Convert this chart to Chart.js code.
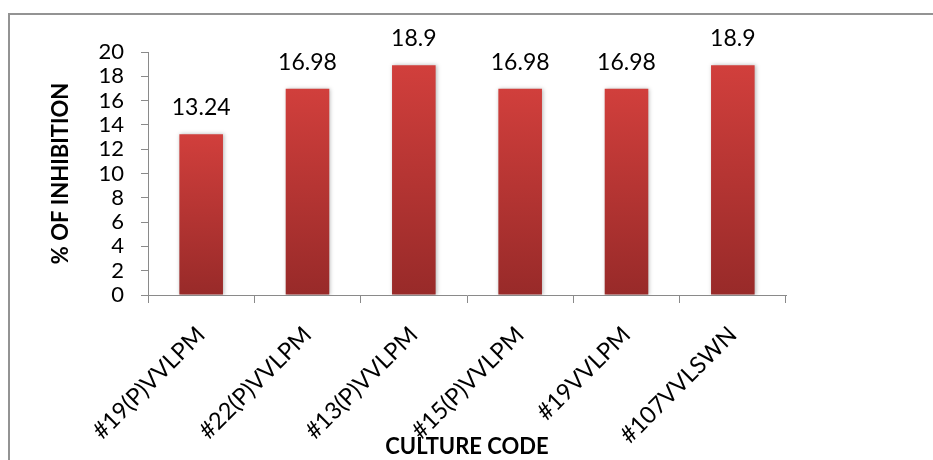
<!DOCTYPE html>
<html>
<head>
<meta charset="utf-8">
<script src="https://cdn.jsdelivr.net/npm/chart.js@4/dist/chart.umd.min.js"></script>
<style>
  html, body { margin: 0; padding: 0; background: #ffffff; }
  #wrap { width: 933px; height: 460px; position: relative; }
</style>
</head>
<body>
<div id="wrap"><canvas id="c" width="933" height="460"></canvas></div>
<script>
// Culture codes and their inhibition percentages
const categories = ['#19(P)VVLPM', '#22(P)VVLPM', '#13(P)VVLPM', '#15(P)VVLPM', '#19VVLPM', '#107VVLSWN'];
const inhibition = [13.24, 16.98, 18.9, 16.98, 16.98, 18.9];
const yTicks = [0, 2, 4, 6, 8, 10, 12, 14, 16, 18, 20];

const FONT = 'Lato, "Open Sans", sans-serif';
const AXIS_GREY = '#8a8a8a';

// Vertical gradient per bar: bright red at the top, deep red at the base
function barFill(ctx) {
  const chart = ctx.chart;
  const area = chart.chartArea;
  if (!area || ctx.parsed == null) return '#c0393a';
  const y = chart.scales.y;
  const top = y.getPixelForValue(ctx.parsed.y);
  const bottom = y.getPixelForValue(0);
  const g = chart.ctx.createLinearGradient(0, top, 0, bottom);
  g.addColorStop(0, '#d13f3c');
  g.addColorStop(1, '#982a29');
  return g;
}

// Frame line along the top and left edge of the chart
const framePlugin = {
  id: 'frame',
  beforeDraw(chart) {
    const c = chart.ctx;
    c.save();
    c.strokeStyle = '#939393';
    c.lineWidth = 2;
    c.beginPath();
    c.moveTo(9, 460);
    c.lineTo(9, 14);
    c.lineTo(933, 14);
    c.stroke();
    c.restore();
  }
};

// Soft drop shadow under the bars
const shadowPlugin = {
  id: 'barShadow',
  beforeDatasetsDraw(chart) {
    const c = chart.ctx;
    c.save();
    c.shadowColor = 'rgba(0,0,0,0.28)';
    c.shadowBlur = 4;
    c.shadowOffsetX = 1;
    c.shadowOffsetY = 0;
  },
  afterDatasetsDraw(chart) {
    chart.ctx.restore();
  }
};

// Value written above each bar
const valueLabels = {
  id: 'valueLabels',
  afterDatasetsDraw(chart) {
    const c = chart.ctx;
    const meta = chart.getDatasetMeta(0);
    const data = chart.data.datasets[0].data;
    c.save();
    c.font = '23px ' + FONT;
    c.fillStyle = '#000000';
    c.textAlign = 'center';
    c.textBaseline = 'alphabetic';
    meta.data.forEach((bar, i) => {
      c.fillText(String(data[i]), bar.x, bar.y - 19);
    });
    c.restore();
  }
};

new Chart(document.getElementById('c'), {
  type: 'bar',
  data: {
    labels: categories,
    datasets: [{
      data: inhibition,
      backgroundColor: barFill,
      borderWidth: 0,
      categoryPercentage: 1.0,
      barPercentage: 0.41
    }]
  },
  options: {
    responsive: false,
    animation: false,
    events: [],
    layout: { padding: { left: 0, right: 147, top: 52, bottom: 0 } },
    plugins: {
      legend: { display: false },
      tooltip: { enabled: false }
    },
    scales: {
      x: {
        offset: true,
        grid: {
          offset: true,
          drawOnChartArea: false,
          drawTicks: true,
          tickLength: 8,
          color: AXIS_GREY,
          lineWidth: 1
        },
        border: { display: true, color: AXIS_GREY, width: 1 },
        ticks: {
          autoSkip: false,
          maxRotation: 45,
          minRotation: 45,
          padding: 18,
          color: '#000000',
          font: { family: FONT, size: 23.5 }
        },
        title: {
          display: true,
          text: 'CULTURE CODE',
          color: '#000000',
          font: { family: FONT, size: 22, weight: 'bold' },
          padding: { top: 0, bottom: 0 }
        },
        afterFit(scale) { scale.height = 165; }
      },
      y: {
        min: 0,
        max: 20,
        afterBuildTicks(scale) { scale.ticks = yTicks.map(v => ({ value: v })); },
        grid: {
          drawOnChartArea: false,
          drawTicks: true,
          tickLength: 7,
          color: AXIS_GREY,
          lineWidth: 1
        },
        border: { display: true, color: AXIS_GREY, width: 1 },
        ticks: {
          autoSkip: false,
          padding: 17,
          color: '#000000',
          font: { family: FONT, size: 22 }
        },
        title: {
          display: true,
          text: '% OF INHIBITION',
          color: '#000000',
          font: { family: FONT, size: 22, weight: 'bold' },
          padding: { top: 48, bottom: 0 }
        },
        afterFit(scale) { scale.width = 148; }
      }
    }
  },
  plugins: [framePlugin, shadowPlugin, valueLabels]
});
</script>
</body>
</html>
